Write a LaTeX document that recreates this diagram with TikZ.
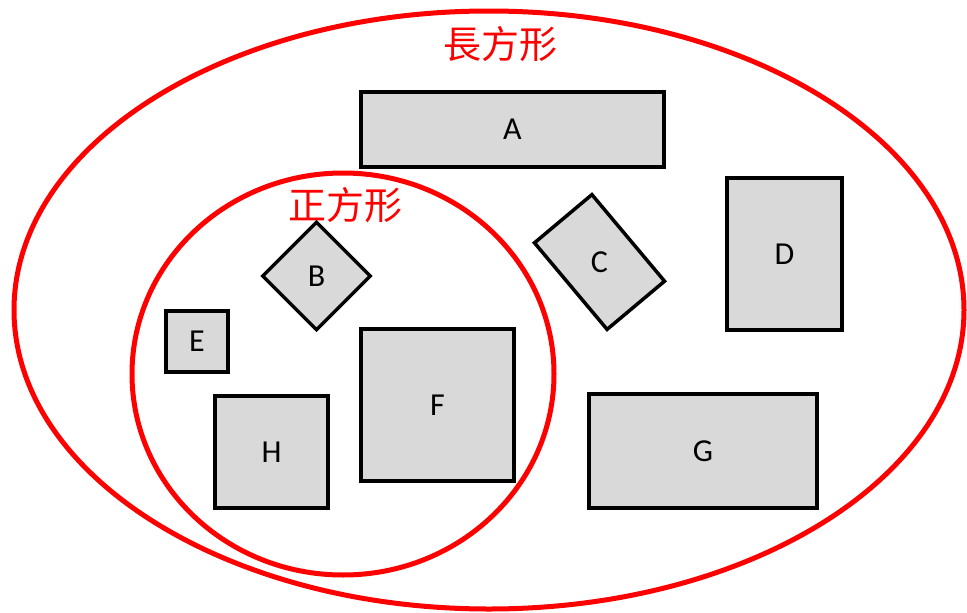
\documentclass[tikz,border=0pt]{standalone}
\usepackage{fontspec}
\setmainfont{Carlito}
\newfontfamily\cjk{Noto Sans CJK TC}
\usetikzlibrary{positioning}
\tikzstyle{shapebox}=[rectangle, draw=black, line width=3.5pt, fill=black!15, inner sep=0pt, font=\fontsize{32}{32}\selectfont]
\tikzstyle{setline}=[draw=red, line width=5pt]
\tikzstyle{setname}=[text=red, font=\cjk\fontsize{38}{38}\selectfont]

\begin{document}
\begin{tikzpicture}[x=1pt, y=-1pt]
\useasboundingbox (0,0) rectangle (967,613);

% the two sets
\draw[setline] (489,310) ellipse [x radius=475, y radius=299];
\draw[setline] (343,374) ellipse [x radius=211, y radius=201];
\node[setname] (rect) at (500,44) {長方形};
\node[setname] (sq) at (345,205) {正方形};

% the shapes
\node[shapebox, minimum width=303pt, minimum height=75pt] (a) at (512.5,129.5) {A};
\node[shapebox, minimum width=76pt, minimum height=76pt, rotate=45] (b) at (316.5,276) {\rotatebox{-45}{B}};
\node[shapebox, minimum width=113pt, minimum height=75pt, rotate=-50] (c) at (599.5,262) {\rotatebox{50}{C}};
\node[shapebox, minimum width=115pt, minimum height=152pt] (d) at (784.5,254) {D};
\node[shapebox, minimum width=62pt, minimum height=61pt] (e) at (197,341.5) {E};
\node[shapebox, minimum width=153pt, minimum height=152pt] (f) at (437.5,405) {F};
\node[shapebox, minimum width=228pt, minimum height=114pt] (g) at (703,451) {G};
\node[shapebox, minimum width=113pt, minimum height=112pt] (h) at (271.5,452) {H};
\end{tikzpicture}
\end{document}
